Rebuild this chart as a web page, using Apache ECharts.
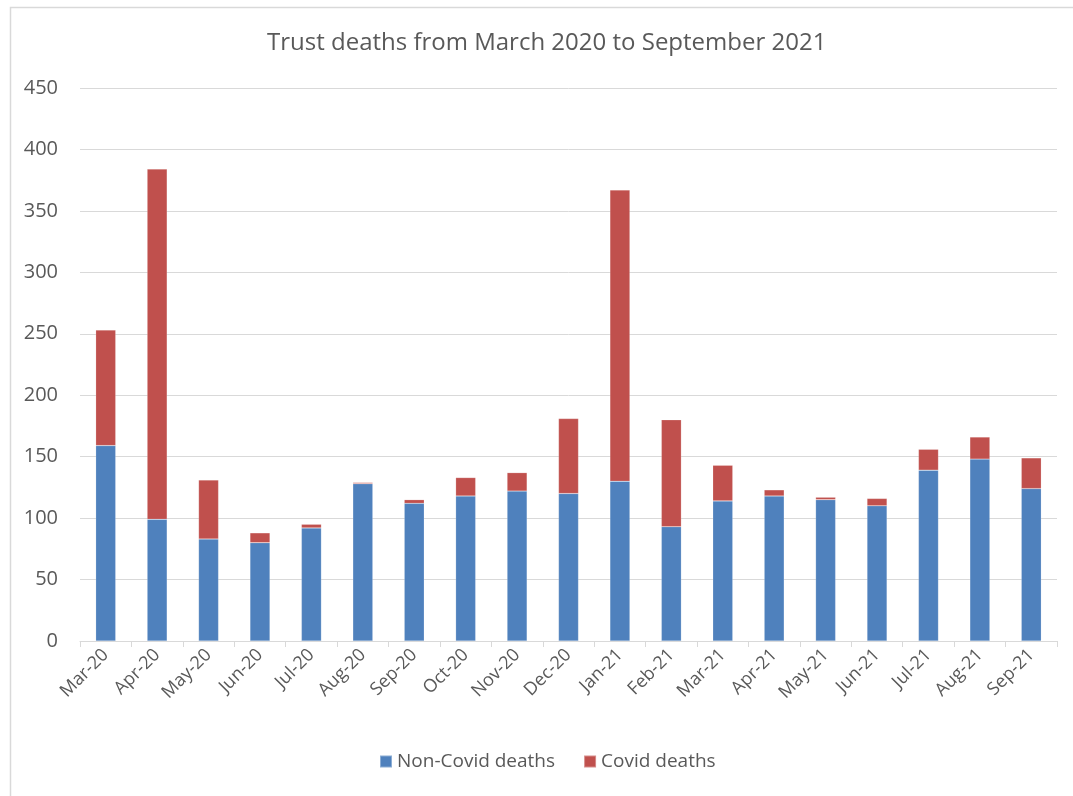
<!DOCTYPE html>
<html>
<head>
<meta charset="utf-8">
<script src="https://cdn.jsdelivr.net/npm/echarts@6/dist/echarts.min.js"></script>
<style>
  html, body { margin: 0; padding: 0; background: #ffffff; }
  #chart { width: 1073px; height: 796px; }
</style>
</head>
<body>
<div id="chart"></div>
<script>
// Monthly trust deaths, split into non-Covid and Covid deaths
const months = ['Mar-20', 'Apr-20', 'May-20', 'Jun-20', 'Jul-20', 'Aug-20', 'Sep-20', 'Oct-20', 'Nov-20', 'Dec-20',
                'Jan-21', 'Feb-21', 'Mar-21', 'Apr-21', 'May-21', 'Jun-21', 'Jul-21', 'Aug-21', 'Sep-21'];
const nonCovidDeaths = [159, 99, 83, 80, 92, 128, 112, 118, 122, 120, 130, 93, 114, 118, 115, 110, 139, 148, 124];
const covidDeaths    = [94, 285, 48, 8, 3, 1, 3, 15, 15, 61, 237, 87, 29, 5, 2, 6, 17, 18, 25];

const FONT = '"Open Sans", "Liberation Sans", sans-serif';
const TEXT = '#595959';

const chart = echarts.init(document.getElementById('chart'), null, { renderer: 'canvas' });

chart.setOption({
  backgroundColor: '#ffffff',
  animation: false,
  title: {
    text: 'Trust deaths from March 2020 to September 2021',
    left: 262,
    top: 26,
    textStyle: { fontFamily: FONT, fontSize: 24, fontWeight: 'normal', color: TEXT }
  },
  legend: {
    bottom: 20,
    left: 374,
    itemWidth: 12,
    itemHeight: 12,
    itemGap: 28,
    icon: 'rect',
    textStyle: { fontFamily: FONT, fontSize: 19, color: TEXT }
  },
  grid: { left: 80, right: 16, top: 88, bottom: 155, containLabel: false },
  xAxis: {
    type: 'category',
    data: months,
    axisLine: { show: true, lineStyle: { color: '#d9d9d9', width: 1 } },
    axisTick: { show: true, alignWithLabel: false, length: 6, lineStyle: { color: '#d9d9d9' } },
    axisLabel: {
      rotate: 45,
      interval: 0,
      margin: 11,
      fontFamily: FONT,
      fontSize: 18,
      color: TEXT
    }
  },
  yAxis: {
    type: 'value',
    min: 0,
    max: 450,
    interval: 50,
    axisLine: { show: false },
    axisTick: { show: false },
    splitLine: { lineStyle: { color: '#d9d9d9', width: 1 } },
    axisLabel: { margin: 22, fontFamily: FONT, fontSize: 20, color: TEXT }
  },
  series: [
    {
      name: 'Non-Covid deaths',
      type: 'bar',
      stack: 'deaths',
      data: nonCovidDeaths,
      barWidth: 20,
      itemStyle: { color: '#4f81bd', borderColor: 'rgba(255,255,255,0.35)', borderWidth: 0.5 }
    },
    {
      name: 'Covid deaths',
      type: 'bar',
      stack: 'deaths',
      data: covidDeaths,
      barWidth: 20,
      itemStyle: { color: '#c0504d', borderColor: 'rgba(255,255,255,0.35)', borderWidth: 0.5 }
    }
  ],
  graphic: [
    {
      type: 'rect',
      left: 8,
      top: 5,
      shape: { width: 1200, height: 900 },
      style: { fill: 'none', stroke: '#d9d9d9', lineWidth: 1.5 },
      silent: true,
      z: -1
    }
  ]
});
</script>
</body>
</html>
